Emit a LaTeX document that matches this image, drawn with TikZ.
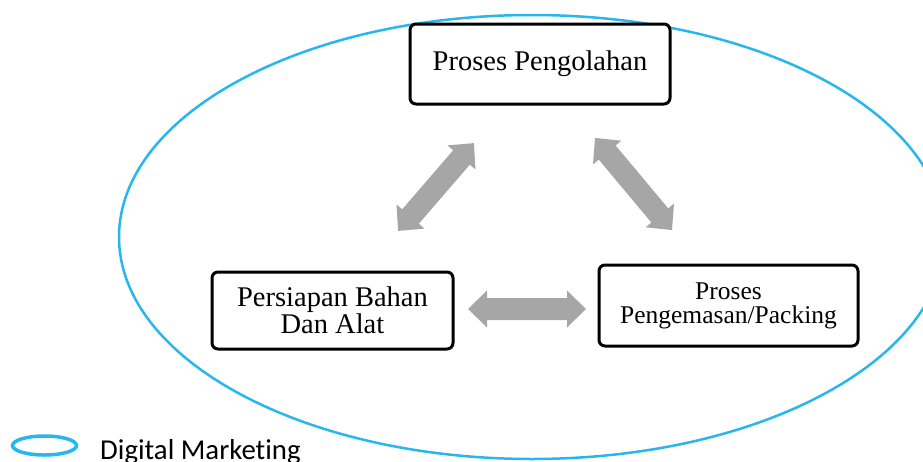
\documentclass[tikz,border=0pt]{standalone}
\usepackage{fontspec}
\setmainfont{Liberation Serif}
\newfontfamily\legendfont[Ligatures=NoCommon]{Carlito}
\usetikzlibrary{shapes.geometric}
\definecolor{ellblue}{RGB}{40,182,238}
\definecolor{arrgray}{RGB}{166,166,166}
\tikzset{
  stepbox/.style={draw=black, line width=3pt, rounded corners=6pt, fill=white,
    align=center, inner sep=0pt},
  pics/dblarrow/.style={code={%
    \fill[arrgray] (-#1,0) -- (-#1+19,18.5) -- (-#1+19,11) -- (#1-19,11) -- (#1-19,18.5)
      -- (#1,0) -- (#1-19,-18.5) -- (#1-19,-11) -- (-#1+19,-11) -- (-#1+19,-18.5) -- cycle;}},
  bigfont/.style={font=\fontsize{28.5}{27}\selectfont},
  smallfont/.style={font=\fontsize{25.5}{24}\selectfont},
}
\begin{document}
\begin{tikzpicture}[x=1pt,y=-1pt]
\path[use as bounding box, clip] (0,0) rectangle (923,461);
% Digital marketing ellipse
\node[ellipse, draw=ellblue, line width=2.5pt, minimum width=826pt, minimum height=444pt,
  inner sep=0pt] (dm) at (532,237) {};
% boxes
\node[stepbox, bigfont, minimum width=260pt, minimum height=80pt] (pp) at (540,64)
  {Proses Pengolahan};
\node[stepbox, bigfont, minimum width=241pt, minimum height=77pt] (pb) at (332.5,310.5)
  {Persiapan Bahan\\Dan Alat};
\node[stepbox, smallfont, minimum width=259pt, minimum height=81pt] (pk) at (728.5,305.5)
  {Proses\\Pengemasan/Packing};
% arrows
\pic[rotate=49.2] (a1) at (436,187) {dblarrow=58};
\pic[rotate=-50.1] (a2) at (633.5,184) {dblarrow=60};
\pic (a3) at (527,309) {dblarrow=59};
% legend
\node[ellipse, draw=ellblue, line width=3.5pt, minimum width=64pt, minimum height=19pt,
  inner sep=0pt] (leg) at (44.5,445.5) {};
\node[anchor=base west, inner sep=0pt, font=\legendfont\fontsize{28.8}{30}\selectfont]
  (legt) at (100,459) {Digital Marketing};
\end{tikzpicture}
\end{document}
